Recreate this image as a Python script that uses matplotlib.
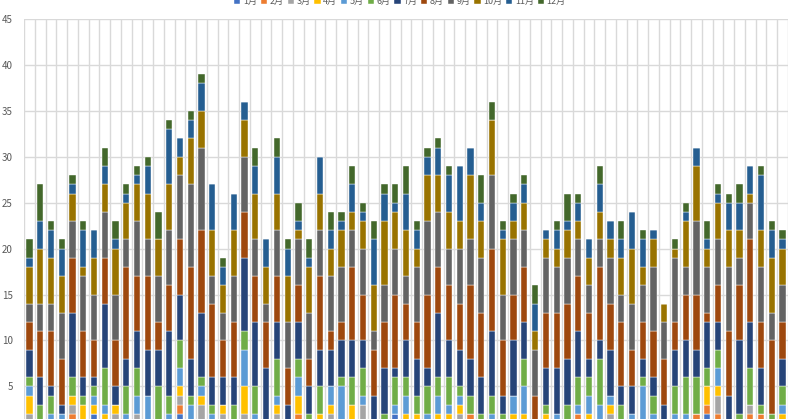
import numpy as np
import matplotlib
matplotlib.use("Agg")
import matplotlib.pyplot as plt

plt.rcParams['font.family'] = ['Noto Sans CJK JP', 'DejaVu Sans']

# years on the x axis (their labels sit below the visible crop)
years = list(range(1951, 2022))

months = ["1月", "2月", "3月", "4月", "5月", "6月",
          "7月", "8月", "9月", "10月", "11月", "12月"]

colors = ["#4472C4", "#ED7D31", "#A5A5A5", "#FFC000", "#5B9BD5", "#70AD47",
          "#264478", "#9E480E", "#636363", "#997300", "#255E91", "#43682B"]

# counts per month, one value per year
m01 = [0,0,0,0,0, 0,2,0,0,0,  0,0,0,0,2, 0,0,0,0,0,  0,0,0,0,0, 0,0,0,0,0,
       0,0,0,0,2, 0,0,0,0,0,  0,0,0,0,0, 0,0,0,0,0,  0,0,0,0,0, 0,0,0,0,0,
       0,0,0,2,0, 0,0,0,0,0,  0]
m02 = [0,0,0,0,2, 0,0,0,0,0,  0,0,0,0,1, 0,0,0,0,0,  0,0,0,0,0, 2,0,0,0,0,
       0,0,0,0,0, 0,0,0,0,0,  0,2,0,0,0, 0,0,0,0,0,  0,2,0,0,0, 0,0,0,0,0,
       0,0,2,1,2, 0,0,2,2,0,  0]
m03 = [2,0,0,0,1, 0,0,0,2,0,  2,0,0,0,1, 0,3,0,2,0,  2,0,0,2,0, 0,0,0,2,0,
       0,3,0,0,0, 0,0,0,0,0,  2,0,0,0,0, 0,0,0,0,0,  0,0,0,0,2, 0,0,0,0,0,
       0,0,0,0,2, 0,0,1,0,0,  0]
m04 = [2,0,0,0,1, 3,1,2,1,0,  0,0,0,0,1, 0,1,0,1,0,  3,0,0,1,0, 2,0,2,1,0,
       3,0,0,0,0, 2,2,0,2,2,  1,0,0,0,0, 2,2,0,2,0,  0,0,2,0,1, 0,0,0,0,0,
       0,0,0,2,1, 0,0,0,0,0,  2]
m05 = [1,0,2,2,0, 0,1,1,0,2,  2,4,0,2,2, 3,1,2,0,0,  4,2,0,1,0, 2,0,0,2,5,
       0,1,0,0,1, 2,0,2,2,1,  1,0,0,2,0, 2,3,0,0,2,  0,1,2,3,1, 0,2,5,2,0,
       2,2,0,0,2, 0,0,0,0,0,  1]
m06 = [1,3,2,0,2, 1,1,4,0,3,  3,0,5,2,3, 1,1,1,0,3,  2,3,0,4,0, 2,2,3,0,1,
       3,3,0,2,3, 2,2,3,2,3,  1,2,2,2,2, 0,3,0,1,0,  3,3,2,5,0, 3,0,1,2,0,
       3,4,4,2,2, 0,2,4,1,2,  2]
m07 = [3,3,1,1,7, 2,1,7,2,3,  4,5,4,7,5, 4,7,3,3,3,  8,7,7,4,3, 4,3,4,4,4,
       4,3,4,5,1, 4,4,2,7,4,  4,4,4,7,2, 6,4,0,4,5,  5,5,2,2,5, 2,3,2,2,3,
       4,4,3,5,3, 4,8,5,4,0,  3]
m08 = [3,5,6,5,6, 5,4,5,5,10, 6,8,3,5,6, 10,9,8,4,6, 5,5,5,5,4, 4,3,8,2,2,
       8,5,5,5,8, 4,4,8,5,6,  5,8,7,9,6, 5,6,4,6,6,  6,6,5,8,5, 7,4,4,5,5,
       3,5,6,1,4, 7,6,9,5,8,  4]
m09 = [2,3,3,5,4, 6,5,5,5,3,  6,4,5,6,7, 9,9,3,3,5,  6,4,2,5,5, 5,5,5,6,6,
       4,5,2,4,5, 3,6,8,6,4,  6,5,6,8,5, 6,4,5,6,5,  5,4,3,3,5, 3,5,4,7,4,
       7,3,8,5,5, 7,3,4,6,3,  4]
m10 = [4,6,5,4,3, 1,4,3,5,4,  4,5,4,5,2, 5,4,5,3,5,  4,5,4,4,5, 1,5,4,3,4,
       2,3,5,7,4, 5,2,5,4,4,  3,7,4,6,6, 2,3,2,2,2,  3,2,3,3,2, 4,6,2,3,2,
       1,5,6,2,4, 4,3,1,4,6,  4]
m11 = [1,3,3,3,1, 4,3,2,1,1,  1,3,0,6,2, 2,3,5,2,4,  2,3,3,4,3, 1,1,4,2,1,
       3,1,5,3,1, 4,2,2,3,4,  6,3,2,0,1, 2,2,3,1,2,  1,2,2,3,2, 2,4,3,1,0,
       0,1,2,1,1, 3,3,3,6,3,  1]
m12 = [2,4,1,1,1, 1,0,2,2,1,  1,1,3,1,0, 1,1,0,1,0,  0,2,0,2,1, 2,2,0,2,1,
       2,1,2,1,2, 3,1,1,1,1,  0,0,3,2,1, 1,1,2,0,1,  3,1,0,2,0, 2,0,1,0,0,
       1,1,0,2,1, 1,2,0,1,1,  1]

series = [m01, m02, m03, m04, m05, m06, m07, m08, m09, m10, m11, m12]


def main():
    fig = plt.figure(figsize=(8, 4.19), dpi=100)
    # plot area runs past the bottom edge, like the cropped original
    ax = fig.add_axes([24 / 800, -13.3 / 419, 764 / 800, 413.3 / 419])

    x = np.arange(len(years))
    bottom = np.zeros(len(years))
    for name, vals, col in zip(months, series, colors):
        vals = np.array(vals, dtype=float)
        ax.bar(x, vals, bottom=bottom, width=0.58, color=col, label=name,
               edgecolor="white", linewidth=0.3, zorder=3)
        bottom += vals

    ax.set_xlim(-0.5, len(years) - 0.5)
    ax.set_ylim(0, 45)
    # the 0 label falls below the crop, so only 5..45 are labelled
    ax.set_yticks(range(5, 46, 5))
    # year labels are outside the visible crop in the original
    ax.set_xticks(x)
    ax.set_xticklabels([])

    # horizontal grid
    ax.yaxis.grid(True, color="#D9D9D9", linewidth=1, zorder=0)
    # vertical grid between categories
    ax.set_xticks(np.arange(-0.5, len(years)), minor=True)
    ax.xaxis.grid(True, which="minor", color="#D9D9D9", linewidth=1, zorder=0)
    ax.tick_params(axis="both", which="both", length=0)
    ax.tick_params(axis="y", labelsize=7, labelcolor="#595959", pad=8)
    for s in ax.spines.values():
        s.set_visible(False)

    fig.legend(loc="center", bbox_to_anchor=(0.5, 1 - 1.5 / 419), ncol=12,
               frameon=False, fontsize=6.5, handlelength=0.7, handleheight=0.7,
               handletextpad=0.3, columnspacing=0.4, labelcolor="#595959")

    fig.savefig("out.png", dpi=100)


if __name__ == '__main__':
    main()
